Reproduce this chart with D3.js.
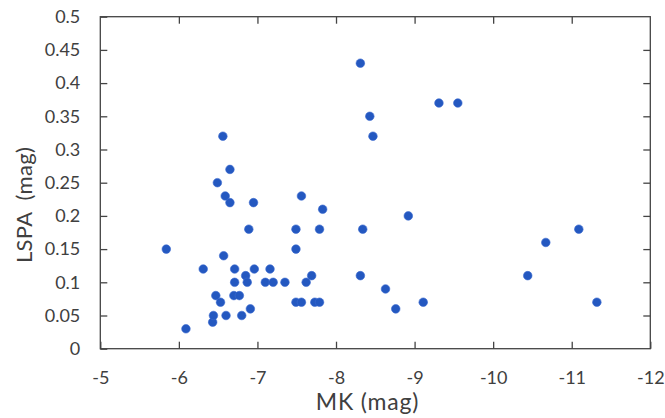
<!DOCTYPE html>
<html>
<head>
<meta charset="utf-8">
<script src="https://cdn.jsdelivr.net/npm/d3@7"></script>
<style>
  html, body { margin: 0; padding: 0; background: #fff; }
  svg { display: block; }
  text { font-family: Lato, "Open Sans", sans-serif; fill: #404040; }
</style>
</head>
<body>
<svg id="chart" width="665" height="418"></svg>
<script>
// ---- data ----
const mk = [
  -5.84, -6.09, -6.31, -6.43, -6.44, -6.47, -6.49, -6.53, -6.56, -6.57,
  -6.59, -6.60, -6.65, -6.65, -6.71, -6.71, -6.70, -6.77, -6.80, -6.85,
  -6.87, -6.89, -6.91, -6.95, -6.96, -7.10, -7.16, -7.20, -7.35, -7.49,
  -7.49, -7.49, -7.56, -7.56, -7.62, -7.69, -7.73, -7.79, -7.79, -7.83,
  -8.31, -8.31, -8.34, -8.43, -8.47, -8.63, -8.76, -8.92, -9.11, -9.31,
  -9.55, -10.44, -10.67, -11.09, -11.32
];
const lspa = [
  0.15, 0.03, 0.12, 0.04, 0.05, 0.08, 0.25, 0.07, 0.32, 0.14,
  0.23, 0.05, 0.27, 0.22, 0.12, 0.10, 0.08, 0.08, 0.05, 0.11,
  0.10, 0.18, 0.06, 0.22, 0.12, 0.10, 0.12, 0.10, 0.10, 0.18,
  0.15, 0.07, 0.07, 0.23, 0.10, 0.11, 0.07, 0.07, 0.18, 0.21,
  0.43, 0.11, 0.18, 0.35, 0.32, 0.09, 0.06, 0.20, 0.07, 0.37,
  0.37, 0.11, 0.16, 0.18, 0.07
];
const xTicks = [-5, -6, -7, -8, -9, -10, -11, -12];
const xTickLabels = ["-5", "-6", "-7", "-8", "-9", "-10", "-11", "-12"];
const yTicks = [0, 0.05, 0.1, 0.15, 0.2, 0.25, 0.3, 0.35, 0.4, 0.45, 0.5];
const yTickLabels = ["0", "0.05", "0.1", "0.15", "0.2", "0.25", "0.3", "0.35", "0.4", "0.45", "0.5"];
const xTitle = "MK (mag)";
const yTitle = "LSPA\u00A0\u00A0(mag)";

// ---- layout ----
const L = 100.3, R = 650.3, T = 16.7, B = 348.7;
const svg = d3.select("#chart");
const x = d3.scaleLinear().domain([-5, -12]).range([L, R]);
const y = d3.scaleLinear().domain([0, 0.5]).range([B, T]);
const axisColor = "#444";
const tickLen = 7;

function styleAxis(g) {
  g.select(".domain").remove();
  g.selectAll(".tick line").attr("stroke", axisColor).attr("stroke-width", 1.3);
  g.selectAll(".tick text").style("font-size", "18px").attr("fill", "#404040");
}

// bottom axis
svg.append("g").attr("transform", `translate(0,${B})`)
  .call(d3.axisBottom(x).tickValues(xTicks)
    .tickFormat((d, i) => xTickLabels[i]).tickSizeInner(-tickLen).tickSizeOuter(0).tickPadding(23))
  .call(styleAxis);
// top axis (ticks only)
svg.append("g").attr("transform", `translate(0,${T})`)
  .call(d3.axisTop(x).tickValues(xTicks.slice(1, -1)).tickFormat("").tickSizeInner(-tickLen).tickSizeOuter(0))
  .call(styleAxis);
// left axis
svg.append("g").attr("transform", `translate(${L},0)`)
  .call(d3.axisLeft(y).tickValues(yTicks)
    .tickFormat((d, i) => yTickLabels[i]).tickSizeInner(-tickLen).tickSizeOuter(0).tickPadding(20))
  .call(styleAxis);
// right axis (ticks only)
svg.append("g").attr("transform", `translate(${R},0)`)
  .call(d3.axisRight(y).tickValues(yTicks.slice(1, -1)).tickFormat("").tickSizeInner(-tickLen).tickSizeOuter(0))
  .call(styleAxis);

// frame
svg.append("rect").attr("x", L).attr("y", T).attr("width", R - L).attr("height", B - T)
  .attr("fill", "none").attr("stroke", axisColor).attr("stroke-width", 1.3);

// points
const pts = mk.map((v, i) => ({ x: v, y: lspa[i] }));
svg.append("g").selectAll("circle").data(pts).join("circle")
  .attr("cx", d => x(d.x)).attr("cy", d => y(d.y)).attr("r", 4.3)
  .attr("fill", "#2458C0").attr("stroke", "#3a6ad0").attr("stroke-width", 0.6);

// titles
svg.append("text").attr("x", 367.5).attr("y", 410).attr("text-anchor", "middle")
  .style("font-size", "23px").style("letter-spacing", "0.8px").text(xTitle);
svg.append("text").attr("transform", "translate(32,205) rotate(-90)").attr("text-anchor", "middle")
  .style("font-size", "22px").style("letter-spacing", "0.3px").text(yTitle);
</script>
</body>
</html>
